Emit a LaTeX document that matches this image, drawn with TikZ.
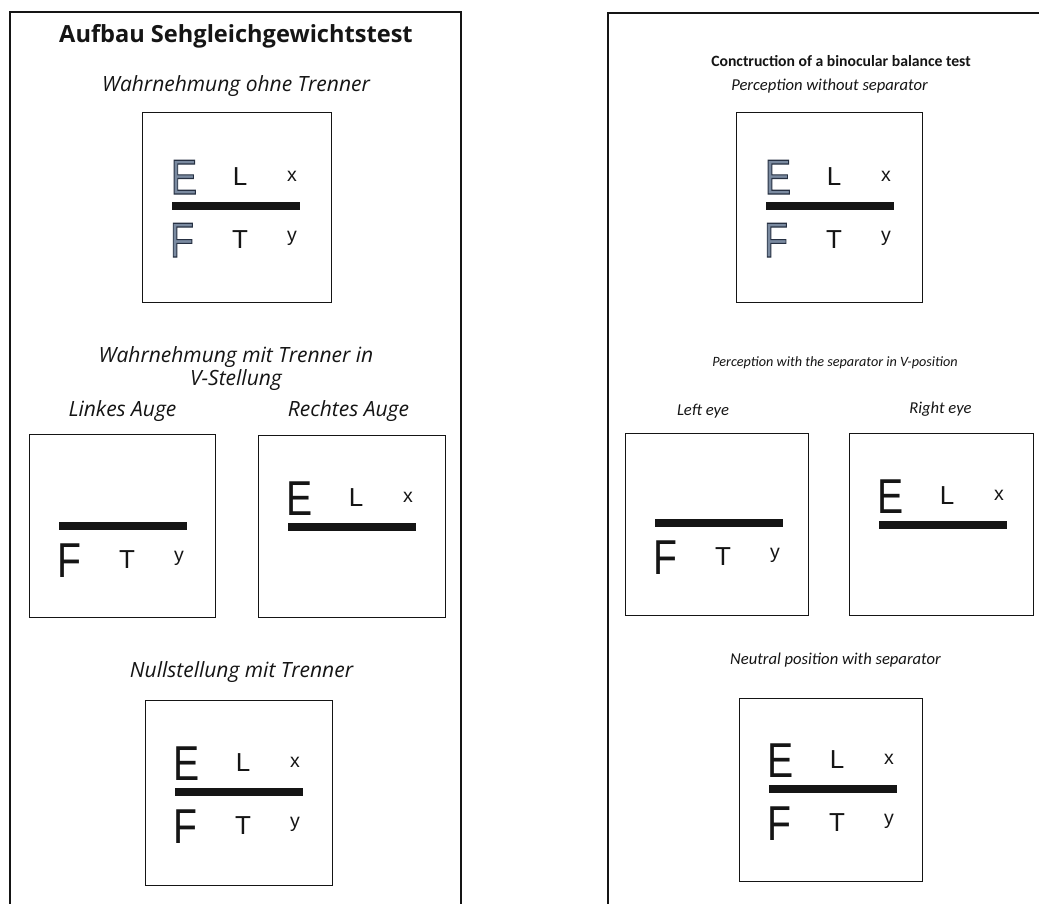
\documentclass[tikz,border=0pt]{standalone}
\usepackage{fontspec}
\usepackage{graphicx}
\setmainfont{Open Sans}
\newfontfamily\calibri{Carlito}
\newfontfamily\arial{Liberation Sans}
\usetikzlibrary{positioning}
\definecolor{ink}{HTML}{151515}
\definecolor{ghostfill}{HTML}{7A8AA0}
% letters of the first chart are drawn hollow
\newcommand{\hollow}[1]{{\color{ghostfill}\special{pdf:literal direct 0.15 0.19 0.26 RG 1.1 w 2 Tr}#1\special{pdf:literal direct 0 Tr}}}
\newcommand{\plainletter}[1]{#1}
% chart rows, placed from the top left corner of a box
\newcommand{\upperRow}[4]{%
  \node[bigletter] (#1E) at (#2+42,#3+80) {#4{\scalebox{0.8}[1]{E}}};
  \node[midletter] (#1L) at (#2+98,#3+71) {L};
  \node[smallletter] (#1x) at (#2+150,#3+67) {x};}
\newcommand{\lowerRow}[4]{%
  \node[bigletter] (#1F) at (#2+40,#3+143) {#4{\scalebox{0.8}[1]{F}}};
  \node[midletter] (#1T) at (#2+98,#3+134) {T};
  \node[smallletter] (#1y) at (#2+150,#3+127) {y};}
\newcommand{\sepbar}[2]{\fill[ink] (#1+30,#2+88) rectangle (#1+158,#2+96);}

\begin{document}
\begin{tikzpicture}[x=1pt, y=-1pt,
  txt/.style={anchor=base, inner sep=0pt, text=ink},
  titleDE/.style={txt, font=\bfseries\fontsize{23.6}{28}\selectfont},
  headDE/.style={txt, font=\itshape\fontsize{21}{23}\selectfont},
  titleEN/.style={txt, font=\calibri\bfseries\fontsize{15.7}{19}\selectfont},
  headEN/.style={txt, font=\calibri\itshape\fontsize{16.6}{19}\selectfont},
  chart/.style={draw=ink, line width=1.4pt, anchor=north west, inner sep=0pt},
  frame/.style={draw=ink, line width=1.6pt},
  bigletter/.style={txt, font=\arial\fontsize{49}{49}\selectfont},
  midletter/.style={txt, font=\arial\fontsize{26}{26}\selectfont},
  smallletter/.style={txt, font=\arial\fontsize{19.5}{20}\selectfont}]
  \useasboundingbox[fill=white] (0,0) rectangle (1039,903);

  % Frames, open at the bottom
  \draw[frame] (10,915) -- (10,12) -- (461,12) -- (461,915);
  \draw[frame] (608,915) -- (608,13) -- (1050,13);

  % German side
  \node[titleDE] (deTitle) at (236,42) {Aufbau Sehgleichgewichtstest};
  \node[headDE] (deFree) at (236,91) {Wahrnehmung ohne Trenner};
  \node[chart, minimum width=189pt, minimum height=190pt] (deTop) at (142,112) {};
  \upperRow{deTop}{142}{114}{\hollow}
  \sepbar{142}{114}
  \lowerRow{deTop}{142}{114}{\hollow}

  \node[headDE, align=center] (deV) at (236,385) {Wahrnehmung mit Trenner in\\V-Stellung};
  \node[headDE] (deLeft) at (122.5,416) {Linkes Auge};
  \node[headDE] (deRight) at (348.5,416) {Rechtes Auge};
  \node[chart, minimum width=186pt, minimum height=183pt] (deLeftBox) at (29,434) {};
  \sepbar{29}{434}
  \lowerRow{deLeftBox}{29}{434}{\plainletter}
  \node[chart, minimum width=187pt, minimum height=182pt] (deRightBox) at (258,435) {};
  \upperRow{deRightBox}{258}{435}{\plainletter}
  \sepbar{258}{435}

  \node[headDE] (deNull) at (241.5,677) {Nullstellung mit Trenner};
  \node[chart, minimum width=187pt, minimum height=185pt] (deNullBox) at (145,700) {};
  \upperRow{deNullBox}{145}{700}{\plainletter}
  \sepbar{145}{700}
  \lowerRow{deNullBox}{145}{700}{\plainletter}

  % English side
  \node[titleEN] (enTitle) at (841,66) {Conctruction of a binocular balance test};
  \node[headEN] (enFree) at (829.5,90) {Perception without separator};
  \node[chart, minimum width=186pt, minimum height=190pt] (enTop) at (736,112) {};
  \upperRow{enTop}{736}{114}{\hollow}
  \sepbar{736}{114}
  \lowerRow{enTop}{736}{114}{\hollow}

  \node[headEN, font=\calibri\itshape\fontsize{14.2}{17}\selectfont] (enV) at (835,366) {Perception with the separator in V-position};
  \node[headEN] (enLeft) at (703,415) {Left eye};
  \node[headEN] (enRight) at (940.5,413) {Right eye};
  \node[chart, minimum width=183pt, minimum height=182pt] (enLeftBox) at (625,433) {};
  \sepbar{625}{431}
  \lowerRow{enLeftBox}{625}{431}{\plainletter}
  \node[chart, minimum width=184pt, minimum height=182pt] (enRightBox) at (849,433) {};
  \upperRow{enRightBox}{849}{433}{\plainletter}
  \sepbar{849}{433}

  \node[headEN] (enNeutral) at (835.5,664) {Neutral position with separator};
  \node[chart, minimum width=183pt, minimum height=183pt] (enNeutralBox) at (739,698) {};
  \upperRow{enNeutralBox}{739}{697}{\plainletter}
  \sepbar{739}{697}
  \lowerRow{enNeutralBox}{739}{697}{\plainletter}
\end{tikzpicture}
\end{document}
